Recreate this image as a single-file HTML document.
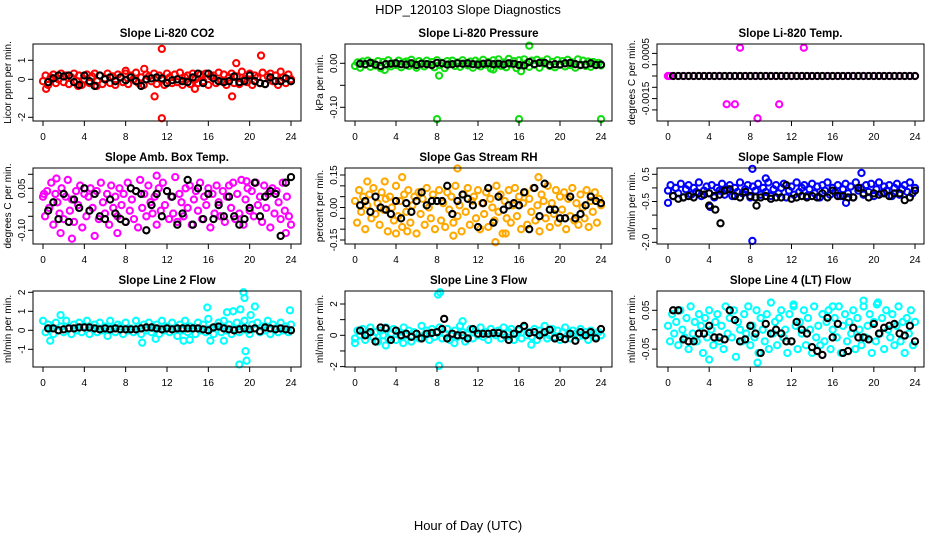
<!DOCTYPE html>
<html><head><meta charset="utf-8"><style>
body{margin:0;background:#fff}
svg text{font-family:"Liberation Sans",sans-serif;fill:#000}
</style></head><body>
<svg id="c" width="936" height="540" xmlns="http://www.w3.org/2000/svg">
<text x="468" y="14" text-anchor="middle" font-size="13">HDP_120103  Slope Diagnostics</text>
<text x="468" y="530" text-anchor="middle" font-size="13">Hour of Day (UTC)</text>
</svg>
<script>
const xTicks=[0,4,8,12,16,20,24];
// Panel 1 CO2
const co2Vals=[-0.1,0.2,-0.3,0.1,0.25,-0.2,0,0.3,-0.15,0.2,-0.25,0.1,0.3,-0.1,0.2,-0.3,0,0.25,-0.2,0.15,0.3,-0.1,0.2,-0.25,0.05,0.3,-0.2,0.15,-0.3,0.25,0.1,-0.15,0.3,-0.25,0.2,0,0.35,-0.2,0.1,-0.3,0.25,0.15,-0.1,0.3,-0.25,0.2,0,-0.3,0.3,0.1,-0.2,0.25,-0.15,0.35,-0.3,0.1,0.2,-0.25,0.3,0,-0.2,0.25,-0.1,0.3,-0.3,0.15,0.2,-0.2,0.35,-0.1,0.25,-0.3,0.1,0.3,-0.2,0.15,-0.25,0.4,0,-0.15,0.3,-0.3,0.2,0.1,-0.2,0.35,-0.25,0.15,0.3,-0.1,0.2,-0.3,0.4,0.1,-0.2,0.25,0];
const co2Black=[-0.15,0.05,0.2,0.15,0.2,-0.15,-0.3,0.2,-0.1,-0.35,0.2,0,0.1,-0.1,0.1,-0.05,0.1,-0.1,-0.35,0,0.05,0.1,0.05,-0.2,-0.05,0,-0.1,-0.15,0.1,0.3,-0.2,0.3,0.05,-0.1,-0.15,-0.1,0.15,-0.15,-0.1,0.2,-0.1,-0.2,-0.25,0.1,-0.1,-0.1,0.05,-0.1];
const co2OutX=[11.5,11.5,21.1,18.7,18.3,10.8,9.8,0.3,14.7,8,3.4,5.2];
const co2OutY=[1.6,-2.05,1.25,0.85,-0.9,-0.9,0.55,-0.5,-0.5,0.45,-0.35,-0.35];
const co2Ticks=[-2,-1,0,1];const co2Labels=["-2","","0","1"];
// Panel 2 Pressure
const presVals=[-0.006,0.002,-0.01,0.004,-0.003,0.006,-0.008,0.001,-0.005,0.005,-0.011,0.003,-0.002,0.007,-0.007,0,-0.004,0.006,-0.009,0.002,0.004,-0.006,0.008,-0.003,-0.01,0.005,0,-0.007,0.006,-0.002,0.003,-0.009,0.007,-0.004,0.001,-0.011,0.005,-0.002,0.006,-0.006,0.002,-0.008,0.007,-0.001,-0.005,0.004,-0.01,0.006,0,-0.007,0.008,-0.003,0.003,-0.012,0.007,-0.004,0.009,-0.006,0.002,-0.009,0.01,-0.002,0.005,-0.011,0.007,-0.005,0.009,0,-0.008,0.006,-0.003,0.008,-0.01,0.004,-0.001,0.009,-0.006,0.003,-0.009,0.007,-0.002,0.005,-0.007,0.008,-0.004,0.002,-0.01,0.009,-0.003,0.006,-0.006,0.004,-0.008,0.003,-0.002,0.001,-0.005];
const presBlack=[-0.001,-0.002,0.001,-0.003,-0.006,-0.002,-0.001,0,-0.002,-0.003,0,-0.004,-0.001,-0.002,-0.004,0.001,0,-0.003,-0.002,0,-0.001,0,-0.002,-0.003,-0.001,0,-0.002,-0.001,-0.003,0,-0.001,-0.004,-0.005,0.003,-0.002,0.001,0.001,-0.004,-0.002,-0.003,0,0.001,-0.002,-0.004,-0.003,0,-0.004,-0.003];
const presOutX=[8,16,24,8.2,17,16.2,2.9,13.5];
const presOutY=[-0.127,-0.127,-0.127,-0.028,0.04,-0.018,-0.015,-0.014];
const presTicks=[0,-0.05,-0.1];const presLabels=["0.00","","-0.10"];
// Panel 3 Temp
const tempVals=[0,0,0,0,0,0,0,0,0,0,0,0,0,0,0,0,0,0,0,0,0,0,0,0,0,0,0,0,0,0,0,0,0,0,0,0,0,0,0,0,0,0,0,0,0,0,0,0,0];
const tempBlack=[0,0,0,0,0,0,0,0,0,0,0,0,0,0,0,0,0,0,0,0,0,0,0,0,0,0,0,0,0,0,0,0,0,0,0,0,0,0,0,0,0,0,0,0,0,0,0,0];
const tempOutX=[7,13.2,5.7,6.5,10.8,8.7,0,0.2];
const tempOutY=[0.00125,0.00125,-0.00125,-0.00125,-0.00125,-0.00187,0,0];
const tempTicks=[0.001,0.0005,0,-0.0005,-0.001,-0.0015];const tempLabels=["0.0005","","","","-0.0015",""];
// Panel 4 Amb box temp
const ambVals=[0.02,-0.05,0.04,-0.02,0.07,-0.08,0.03,0,-0.04,0.05,-0.06,0.02,0.08,-0.03,0.01,-0.07,0.04,-0.01,0.06,-0.09,0.03,-0.05,0.02,0.05,-0.02,-0.12,0.04,-0.06,0.07,0,-0.04,0.03,-0.08,0.06,-0.02,0.02,-0.05,0.05,-0.01,0.03,-0.07,0.07,-0.03,0.01,-0.06,0.04,-0.09,0.08,-0.02,0.03,-0.05,0.06,0,-0.04,0.02,-0.08,0.05,-0.03,0.07,-0.01,0.04,-0.06,0.02,-0.04,0.09,-0.07,0.03,0,-0.05,0.05,-0.02,0.06,-0.08,0.01,0.04,-0.03,0.07,-0.06,0.02,-0.01,0.05,-0.09,0.03,-0.04,0.06,0,-0.05,0.04,-0.07,0.02,0.06,-0.02,0.07,-0.06,0.03,-0.04,0.08,-0.08,0.01,0.05,-0.03,0.04,-0.05,0.07,-0.01,0.02,-0.07,0.06,-0.02,0.03,-0.09,0.05,-0.04,0.04,0,-0.06,0.07,-0.03,0.02,-0.05,-0.08];
const ambBlack=[-0.03,0,-0.06,0.03,-0.07,0.01,-0.02,0.05,-0.03,0.03,-0.05,-0.06,0.01,-0.04,-0.06,-0.07,0.05,0.04,0.03,-0.1,-0.01,0.03,-0.05,0.04,0.02,-0.08,-0.04,0.08,-0.08,0.05,-0.06,0.03,-0.06,-0.01,-0.05,0.02,-0.05,-0.08,-0.06,-0.02,0.07,-0.05,0.02,0.04,0.03,-0.12,0.07,0.09];
const ambOutX=[1.3,2.8,1.7,7.2,11,23.5,0.1,19.7];
const ambOutY=[0.085,-0.13,-0.11,-0.11,0.095,-0.11,0.03,0.075];
const ambTicks=[0.1,0.05,0,-0.05,-0.1];const ambLabels=["","0.05","","","-0.10"];
// Panel 5 RH
const rhVals=[0.03,-0.07,0.08,-0.02,0.05,-0.1,0.01,0.06,-0.05,0.09,-0.03,0.02,-0.08,0.07,-0.01,0.04,-0.11,0.05,0,-0.06,0.1,-0.04,0.03,-0.09,0.06,-0.02,0.08,-0.07,0.01,0.05,-0.12,0.07,-0.03,0.04,-0.08,0.09,0,-0.05,0.06,-0.1,0.03,0.08,-0.06,0.02,-0.09,0.07,-0.01,0.05,-0.07,0.1,-0.04,0.01,-0.11,0.06,-0.02,0.09,-0.08,0.03,0.05,-0.05,0.08,-0.1,0.02,-0.03,0.07,-0.09,0.04,0,-0.06,0.1,-0.02,0.06,-0.12,0.03,-0.05,0.08,-0.07,0.01,0.09,-0.04,0.05,-0.1,0.02,0.07,-0.08,0.04,-0.02,0.09,-0.06,0.01,-0.11,0.06,0.03,-0.05,0.1,-0.09,0.02,-0.03,0.08,-0.07,0.05,-0.01,0.07,-0.1,0.04,-0.04,0.09,-0.06,0.02,-0.08,0.06,0,-0.05,0.08,-0.09,0.03,-0.02,0.07,-0.07,0.04,0.01];
const rhBlack=[0.01,0.03,-0.02,0.05,0,-0.01,-0.03,0.03,-0.05,0.02,-0.02,0.03,0.07,0.01,0.03,0.03,0.03,0.1,-0.03,0.03,0.06,0.04,0.01,-0.09,0.02,0.09,-0.07,0.05,-0.01,0.01,0.02,0.01,0.07,-0.1,0.09,-0.04,0.11,-0.01,-0.01,-0.05,-0.05,0.05,-0.05,-0.03,0.01,0.05,0.03,0.02];
const rhOutX=[1.2,2.9,4.6,4,5.1,9.6,10,13.7,17.9,14.7];
const rhOutY=[0.12,0.12,0.14,-0.12,-0.11,-0.13,0.18,-0.16,0.14,-0.12];
const rhTicks=[0.15,0.1,0.05,0,-0.05,-0.1,-0.15];const rhLabels=["0.15","","","0.00","","","-0.15"];
// Panel 6 Sample flow
const sfVals=[-0.1,0.1,-0.3,0,-0.2,0.15,-0.35,-0.05,0.1,-0.25,0,-0.15,0.2,-0.3,-0.1,0.05,-0.2,0.1,-0.35,0,-0.1,0.15,-0.25,-0.05,0.1,-0.3,0,-0.15,0.2,-0.2,-0.05,0.1,-0.35,0.05,-0.1,0.15,-0.25,0,-0.15,0.2,-0.3,-0.05,0.1,-0.2,0,0.15,-0.35,-0.1,0.05,-0.25,0.2,-0.15,0,0.1,-0.3,-0.05,0.15,-0.2,0.05,-0.35,0.1,-0.1,0.2,-0.25,0,-0.15,0.1,-0.3,-0.05,0.15,-0.2,0.05,-0.35,0.2,-0.1,0,-0.25,0.1,-0.15,0.15,-0.3,-0.05,0.2,-0.2,0.05,-0.1,0.1,-0.3,0,0.15,-0.25,-0.05,0.1,-0.15,0.2,-0.2,0];
const sfBlack=[-0.3,-0.4,-0.35,-0.3,-0.35,-0.2,-0.25,-0.2,-0.3,-0.25,-0.1,-0.05,-0.3,-0.35,-0.15,-0.3,-0.35,-0.35,-0.3,-0.4,-0.35,-0.35,0.1,-0.4,-0.35,-0.3,-0.35,-0.3,-0.35,-0.2,-0.35,-0.1,-0.3,-0.3,-0.35,-0.35,0,-0.2,-0.35,-0.2,-0.25,-0.2,-0.3,-0.2,-0.2,-0.45,-0.35,-0.1];
const sfOutX=[8.2,8.2,0,18.8,17.3,9.5,4.1];
const sfOutY=[0.7,-1.95,-0.55,0.55,-0.55,0.35,-0.7];
const sfBOutX=[4,4.6,5.1,8.6];
const sfBOutY=[-0.65,-0.8,-1.3,-0.65];
const sfTicks=[0.5,0,-0.5,-1,-1.5,-2];const sfLabels=["0.5","","-0.5","","","-2.0"];
// Panel 7 Line 2
const l2Vals=[0.5,-0.1,0.3,0.1,-0.2,0.4,0,0.2,-0.1,0.5,0.1,-0.2,0.3,0,0.4,-0.1,0.2,0.5,-0.2,0.1,0.3,-0.1,0.4,0,0.2,-0.3,0.5,0.1,-0.1,0.3,0.2,-0.2,0.4,0,0.1,-0.1,0.5,0.2,-0.2,0.3,0,0.4,-0.1,0.1,0.3,-0.2,0.5,0,0.2,-0.1,0.4,0.1,-0.3,0.3,0,0.5,-0.1,0.2,0.1,-0.2,0.4,0,0.3,-0.1,0.6,0.1,-0.2,0.2,0.4,-0.1,0.5,0,0.3,-0.2,0.1,0.4,-0.1,0.2,0.5,0,-0.2,0.3,0.1,0.4,-0.1,0.2,0,0.5,-0.2,0.3,0.1,-0.1,0.4,0,0.2,-0.1,0.3];
const l2Black=[0.1,0.1,0,0.05,0.1,0.1,0.15,0.15,0.15,0.1,0.05,0.1,0.05,0.1,0.05,0.05,0.05,0.05,0.1,0.15,0.15,0.1,0.05,0.1,0.05,0.1,0.1,0.1,0.1,0.1,0.05,0,0.15,0.2,0.1,0.05,0,0.05,0.1,0.05,0.1,-0.05,0.15,0.1,0.05,0.1,0.05,0];
const l2OutX=[0.7,1.7,9.6,10.9,13.6,14.2,16.2,17.5,17.8,18.4,19.1,19.4,19.5,19.6,19.7,20.1,20.5,23.9,19.0,15.9];
const l2OutY=[-0.55,0.8,-0.65,-0.45,-0.55,-0.5,-0.55,-0.55,0.95,1,1.1,2,1.7,-1.1,-1.6,0.8,1.25,1.05,-1.8,1.2];
const l2Ticks=[2,1,0,-1];const l2Labels=["2","1","0","-1"];
// Panel 8 Line 3
const l3Vals=[-0.2,0.3,0,0.4,-0.3,0.1,0.5,-0.1,0.2,-0.4,0.3,0,0.5,-0.2,0.1,0.4,-0.3,0.2,-0.1,0.5,0,0.3,-0.4,0.2,0.1,-0.2,0.6,0,0.3,-0.3,0.4,-0.1,0.2,0.5,-0.2,0.1,0.4,-0.3,0,0.3,-0.1,0.6,0.2,-0.4,0.1,0.4,-0.2,0.3,0,0.5,-0.1,0.2,-0.3,0.4,0.1,0,0.3,-0.2,0.5,-0.1,0.2,0.4,-0.3,0.1,0.3,-0.2,0.5,0,0.2,-0.1,0.4,-0.3,0.3,0.1,0.6,-0.2,0,0.4,-0.1,0.3,-0.3,0.2,0.5,0,-0.2,0.3,0.1,-0.1,0.4,0,0.2,-0.3,0.3,0.1,-0.1,0.2,0];
const l3Black=[0.3,0,0.2,-0.4,0.5,0.45,-0.3,0.3,0,0.1,-0.1,0.1,-0.2,0.1,0.15,0.2,0.4,-0.2,0.1,0,0,-0.2,0.4,0.1,0.1,0.1,0.15,0.15,0.05,-0.3,0.1,0.4,0.6,0.15,0.2,0,0.2,0.35,-0.2,-0.1,-0.25,0.1,-0.35,0.2,0,0.2,-0.2,0.4];
const l3OutX=[8.1,8.3,8.2,0,3,9.7,10.5,17.2,4.7];
const l3OutY=[2.6,2.75,-1.95,-0.5,-0.65,-0.5,0.9,-0.6,-0.5];
const l3BOutX=[8.7];const l3BOutY=[1.05];
const l3Ticks=[2,1,0,-1,-2];const l3Labels=["2","","0","","-2"];
// Panel 9 Line 4
const l4Vals=[0.01,-0.03,0.04,-0.01,0.02,-0.04,0.05,0,-0.02,0.03,-0.05,0.06,-0.01,0.02,-0.03,0.04,0.01,-0.06,0.03,-0.02,0.05,0,-0.04,0.02,0.04,-0.03,0.01,-0.05,0.06,-0.01,0.03,-0.02,0.05,-0.07,0.02,0,-0.03,0.04,-0.01,0.06,-0.04,0.01,-0.02,0.05,-0.06,0.03,0,-0.03,0.04,-0.05,0.07,-0.01,0.02,-0.04,0.03,0.05,-0.02,0,-0.06,0.04,-0.03,0.06,0.01,-0.05,0.02,-0.01,0.05,-0.04,0.03,0,-0.06,0.06,-0.02,0.01,-0.04,0.04,-0.03,0.02,0.05,-0.05,0,0.03,-0.02,0.06,-0.06,0.01,0.04,-0.03,0.02,-0.01,0.05,-0.05,0.03,0,-0.04,0.06,-0.02,0.01,0.04,-0.06,0.02,-0.03,0.07,-0.01,0.03,-0.05,0.05,0,-0.02,0.04,-0.04,0.01,0.06,-0.03,0.02,-0.06,0.03,-0.01,0.05,-0.04,0.02];
const l4Black=[0.05,0.05,-0.025,-0.03,-0.03,-0.01,-0.01,0.01,-0.02,-0.02,-0.025,0.05,0.025,-0.03,-0.025,0.01,-0.01,-0.06,0.015,-0.01,0,-0.01,-0.03,-0.03,0.02,0,-0.01,-0.045,-0.055,-0.065,0.03,-0.02,0.015,-0.06,-0.055,0.005,-0.02,-0.02,-0.025,0.015,-0.01,0.005,0.01,0.015,-0.01,-0.015,0.01,-0.03];
const l4OutX=[19,20.3,4,8.7,12.2,16];
const l4OutY=[0.075,0.065,-0.077,-0.085,0.065,0.06];
const l4Ticks=[0.05,0,-0.05];const l4Labels=["0.05","","-0.05"];

const NS="http://www.w3.org/2000/svg";
const svg=document.getElementById('c');
function el(tag,attrs,parent){const e=document.createElementNS(NS,tag);for(const k in attrs)e.setAttribute(k,attrs[k]);(parent||svg).appendChild(e);return e;}

const panels=[
 {name:'co2',title:'Slope Li-820 CO2',ylab:'Licor ppm per min.',bx:33,by:44,bw:268,bh:77,x0:43,x24:291,yv0:0,yp0:79.3,yv1:1,yp1:60.3,col:'#ff0000',vals:co2Vals,blk:co2Black,ox:co2OutX,oy:co2OutY,ticks:co2Ticks,labels:co2Labels},
 {name:'pressure',title:'Slope Li-820 Pressure',ylab:'kPa per min.',bx:345,by:44,bw:267,bh:77,x0:355,x24:601,yv0:0,yp0:63.3,yv1:-0.1,yp1:107.3,col:'#10e010',vals:presVals,blk:presBlack,ox:presOutX,oy:presOutY,ticks:presTicks,labels:presLabels},
 {name:'temp',title:'Slope Li-820 Temp.',ylab:'degrees C per min.',bx:657,by:44,bw:267,bh:77,x0:668,x24:915,yv0:0,yp0:76,yv1:0.0005,yp1:64.7,col:'#ff00ff',vals:tempVals,blk:tempBlack,ox:tempOutX,oy:tempOutY,ticks:tempTicks,labels:tempLabels},
 {name:'amb-temp',title:'Slope Amb. Box Temp.',ylab:'degrees C per min.',bx:33,by:168,bw:268,bh:76,x0:43,x24:291,yv0:0,yp0:202.3,yv1:0.05,yp1:188.3,col:'#ff00ff',vals:ambVals,blk:ambBlack,ox:ambOutX,oy:ambOutY,ticks:ambTicks,labels:ambLabels},
 {name:'rh',title:'Slope Gas Stream RH',ylab:'percent per min.',bx:345,by:168,bw:267,bh:76,x0:355,x24:601,yv0:0,yp0:207.5,yv1:0.15,yp1:175,col:'#ffa800',vals:rhVals,blk:rhBlack,ox:rhOutX,oy:rhOutY,ticks:rhTicks,labels:rhLabels},
 {name:'sample-flow',title:'Slope Sample Flow',ylab:'ml/min per min.',bx:657,by:168,bw:267,bh:76,x0:668,x24:915,yv0:0.5,yp0:174.3,yv1:-2,yp1:242.3,col:'#0000ff',vals:sfVals,blk:sfBlack,ox:sfOutX,oy:sfOutY,bx2:sfBOutX,by2:sfBOutY,ticks:sfTicks,labels:sfLabels},
 {name:'line2-flow',title:'Slope Line 2 Flow',ylab:'ml/min per min.',bx:33,by:291,bw:268,bh:76,x0:43,x24:291,yv0:0,yp0:330.3,yv1:1,yp1:311.3,col:'#00ffff',vals:l2Vals,blk:l2Black,ox:l2OutX,oy:l2OutY,ticks:l2Ticks,labels:l2Labels},
 {name:'line3-flow',title:'Slope Line 3 Flow',ylab:'ml/min per min.',bx:345,by:291,bw:267,bh:76,x0:355,x24:601,yv0:0,yp0:335.3,yv1:2,yp1:304,col:'#00ffff',vals:l3Vals,blk:l3Black,ox:l3OutX,oy:l3OutY,bx2:l3BOutX,by2:l3BOutY,ticks:l3Ticks,labels:l3Labels},
 {name:'line4-flow',title:'Slope Line 4 (LT) Flow',ylab:'ml/min per min.',bx:657,by:291,bw:267,bh:76,x0:668,x24:915,yv0:0,yp0:329.7,yv1:0.05,yp1:310.3,col:'#00ffff',vals:l4Vals,blk:l4Black,ox:l4OutX,oy:l4OutY,ticks:l4Ticks,labels:l4Labels}
];

panels.forEach(p=>{
 const g=el('g',{});
 
 
 const xs=h=>p.x0+(p.x24-p.x0)*h/24;
 const ys=v=>p.yp0+(v-p.yv0)*(p.yp1-p.yp0)/(p.yv1-p.yv0);
 const t=el('text',{x:p.bx+p.bw/2,y:p.by-7,'text-anchor':'middle','font-size':'11.5','font-weight':'bold'},g);
 t.textContent=p.title;
 
 
 const yl=el('text',{transform:`translate(${p.bx-22},${p.by+p.bh/2}) rotate(-90)`,'text-anchor':'middle','font-size':'10'},g);
 yl.textContent=p.ylab;
 
 
 const pts=el('g',{fill:'none','stroke-width':'2.1'},g);
 
 
 const n=p.vals.length;
 p.vals.forEach((v,i)=>{
  const c=el('circle',{cx:xs(i*24/(n-1)),cy:ys(v),r:3.1,stroke:p.col},pts);
  
  
 });
 p.ox.forEach((h,i)=>{
  const c=el('circle',{cx:xs(h),cy:ys(p.oy[i]),r:3.1,stroke:p.col},pts);
  
  
 });
 const m=p.blk.length;
 p.blk.forEach((v,i)=>{
  const c=el('circle',{cx:xs(0.5+i*23.5/(m-1)),cy:ys(v),r:3.1,stroke:'#000'},pts);
  
  
 });
 if(p.bx2)p.bx2.forEach((h,i)=>{
  const c=el('circle',{cx:xs(h),cy:ys(p.by2[i]),r:3.1,stroke:'#000'},pts);
  
  
 });
 const b=el('rect',{x:p.bx,y:p.by,width:p.bw,height:p.bh,fill:'none',stroke:'#000','stroke-width':'1'},g);
 
 
 const xb=p.by+p.bh;
 el('line',{x1:xs(0),x2:xs(24),y1:xb,y2:xb,stroke:'#000'},g);
 xTicks.forEach(h=>{
  el('line',{x1:xs(h),x2:xs(h),y1:xb,y2:xb+5,stroke:'#000'},g);
  const tl=el('text',{x:xs(h),y:xb+19,'text-anchor':'middle','font-size':'10'},g);
  tl.textContent=h;
  
  
 });
 p.ticks.forEach((v,i)=>{
  const y=ys(v);
  el('line',{x1:p.bx,x2:p.bx-5,y1:y,y2:y,stroke:'#000'},g);
  if(p.labels[i]){
   const tl=el('text',{transform:`translate(${p.bx-8},${y}) rotate(-90)`,'text-anchor':'middle','font-size':'10'},g);
   tl.textContent=p.labels[i];
   
   
  }
 });
 const yt=p.ticks.map(ys);
 el('line',{x1:p.bx,x2:p.bx,y1:Math.min(...yt),y2:Math.max(...yt),stroke:'#000'},g);
});
</script>
</body></html>
